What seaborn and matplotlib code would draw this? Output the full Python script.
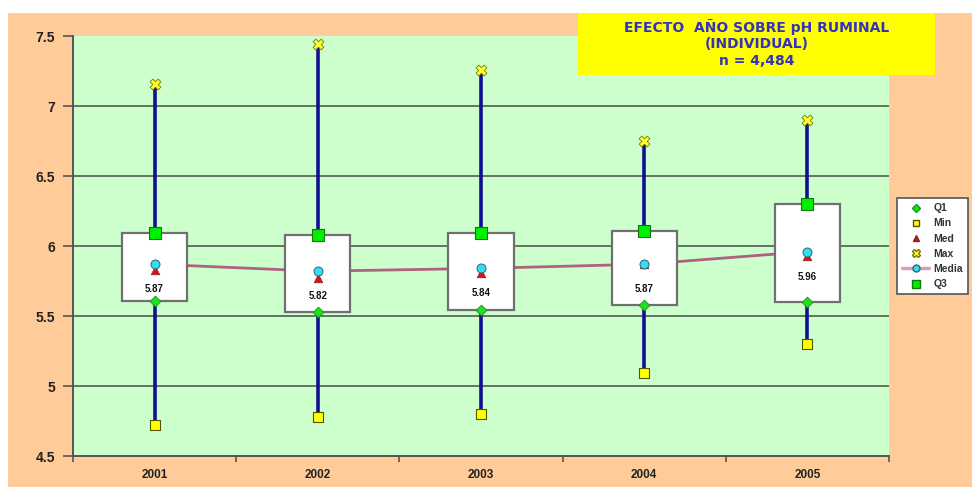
import matplotlib
matplotlib.use("Agg")
import matplotlib.pyplot as plt
from matplotlib.lines import Line2D
from matplotlib.patches import Rectangle
import seaborn as sns
import pandas as pd

years = ["2001", "2002", "2003", "2004", "2005"]
ph_min = [4.72, 4.78, 4.80, 5.09, 5.30]
ph_q1 = [5.61, 5.53, 5.54, 5.58, 5.60]
ph_med = [5.83, 5.77, 5.81, 5.87, 5.93]
ph_mean = [5.87, 5.82, 5.84, 5.87, 5.96]
ph_q3 = [6.09, 6.08, 6.09, 6.11, 6.30]
ph_max = [7.16, 7.44, 7.26, 6.75, 6.90]
title_lines = ["EFECTO  AÑO SOBRE pH RUMINAL", "(INDIVIDUAL)", "n = 4,484"]

df = pd.DataFrame({"x": range(len(years)), "year": years, "min": ph_min, "q1": ph_q1,
                   "med": ph_med, "mean": ph_mean, "q3": ph_q3, "max": ph_max})

sns.set_style("white")
plt.rcParams["font.family"] = ["Liberation Sans", "DejaVu Sans"]
plt.rcParams["font.weight"] = "bold"

fig = plt.figure(figsize=(9.72, 4.87), dpi=100, facecolor="white")
fig.patches.append(Rectangle((8 / 972, 0), 1, (487 - 13) / 487, transform=fig.transFigure,
                             facecolor="#FFCC99", edgecolor="none", zorder=-10))
ax = fig.add_axes([73 / 972, 1 - 456 / 487, 816 / 972, 420 / 487])
ax.set_zorder(1)
ax.set_facecolor("#CCFFCC")

# grid lines
for v in [5.0, 5.5, 6.0, 6.5, 7.0]:
    ax.axhline(v, color="#5a6a5a", lw=1.3, zorder=1)

# mean line (behind boxes)
sns.lineplot(data=df, x="x", y="mean", ax=ax, color="#B06080", lw=2, zorder=2, legend=False)

# whiskers
ax.vlines(df["x"], df["min"], df["max"], color="#101090", lw=2.6, zorder=3)

# boxes Q1..Q3
ax.bar(df["x"], df["q3"] - df["q1"], bottom=df["q1"], width=0.4, color="white",
       edgecolor="#707070", lw=1.6, zorder=4)

mk = dict(ax=ax, legend=False, zorder=6)
sns.scatterplot(data=df, x="x", y="q1", marker="D", s=30, color="#22DD22", edgecolor="#119911", linewidth=0.6, **mk)
sns.scatterplot(data=df, x="x", y="min", marker="s", s=50, color="#FFFF00", edgecolor="#555500", linewidth=0.8, **mk)
sns.scatterplot(data=df, x="x", y="med", marker="^", s=38, color="#DD1111", edgecolor="#882222", linewidth=0.5, **mk)
sns.scatterplot(data=df, x="x", y="max", marker="X", s=60, color="#FFFF33", edgecolor="#777700", linewidth=0.6, **mk)
sns.scatterplot(data=df, x="x", y="mean", marker="o", s=42, color="#33DDEE", edgecolor="#336677", linewidth=0.7, **mk)
sns.scatterplot(data=df, x="x", y="q3", marker="s", s=70, color="#00EE00", edgecolor="#117711", linewidth=0.8, **mk)

for xi, m in zip(df["x"], ph_mean):
    ax.annotate(f"{m:.2f}", (xi, m), xytext=(0, -18), textcoords="offset points",
                ha="center", va="center", fontsize=7, fontweight="bold", color="#111111", zorder=7)

ax.set_xlim(-0.5, len(years) - 0.5)
ax.set_ylim(4.5, 7.5)
ax.set_yticks([4.5, 5, 5.5, 6, 6.5, 7, 7.5])
ax.set_yticklabels(["4.5", "5", "5.5", "6", "6.5", "7", "7.5"], fontsize=10, fontweight="bold", color="#222222")
ax.set_xticks([i - 0.5 for i in range(len(years) + 1)])
ax.set_xticklabels([])
ax.set_xticks(range(len(years)), minor=True)
ax.set_xticklabels(years, minor=True, fontsize=8.5, fontweight="bold", color="#222222")
ax.tick_params(axis="y", which="major", length=7, width=1.2, color="#555555", pad=6, left=True)
ax.tick_params(axis="x", which="major", length=4, width=1.2, color="#555555", bottom=True, direction="out")
ax.tick_params(axis="x", which="minor", length=0, pad=9)
ax.set_xlabel("")
ax.set_ylabel("")
for side in ["top", "right"]:
    ax.spines[side].set_visible(False)
for side in ["left", "bottom"]:
    ax.spines[side].set_color("#555555")
    ax.spines[side].set_linewidth(1.4)

# title box
fig.patches.append(Rectangle((578 / 972, 1 - 75 / 487), 357 / 972, 62 / 487, transform=fig.transFigure,
                             facecolor="#FFFF00", edgecolor="none", zorder=5))
for i, line in enumerate(title_lines):
    fig.text(757 / 972, 1 - (27 + 17 * i) / 487, line, ha="center", va="center",
             fontsize=10, fontweight="bold", family="DejaVu Sans", color="#3333BB", zorder=6)

handles = [
    Line2D([], [], ls="none", marker="D", ms=4, mfc="#22DD22", mec="#119911"),
    Line2D([], [], ls="none", marker="s", ms=5, mfc="#FFFF00", mec="#555500"),
    Line2D([], [], ls="none", marker="^", ms=5, mfc="#DD1111", mec="#882222"),
    Line2D([], [], ls="none", marker="X", ms=6, mfc="#FFFF33", mec="#777700"),
    Line2D([], [], color="#D8A0B8", lw=2.5, marker="o", ms=5, mfc="#33DDEE", mec="#336677"),
    Line2D([], [], ls="none", marker="s", ms=6, mfc="#00EE00", mec="#117711"),
]
labels = ["Q1", "Min", "Med", "Max", "Media", "Q3"]
leg = fig.legend(handles, labels, loc="upper left", bbox_to_anchor=(897 / 972, 1 - 198 / 487),
                 fontsize=7.5, frameon=True, fancybox=False, framealpha=1, borderaxespad=0,
                 handlelength=2.6, labelspacing=0.5, borderpad=0.5, handletextpad=0.4)
leg.get_frame().set_edgecolor("#555555")
leg.get_frame().set_linewidth(1.2)
for t in leg.get_texts():
    t.set_color("#333333")

fig.savefig("out.png", dpi=100, facecolor=fig.get_facecolor())
